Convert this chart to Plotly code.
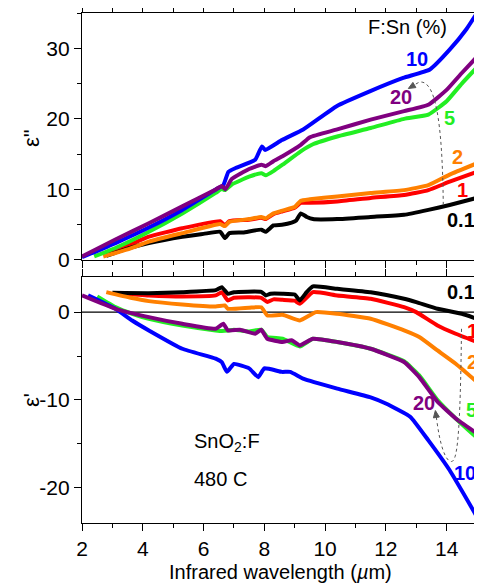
import plotly.graph_objects as go

# ---------------- data: top panel (epsilon'') ----------------
top_black_x = [2.8, 3.5, 4.2, 5.3, 6.0, 6.55, 6.7, 6.85, 7.3, 7.9, 8.05, 8.3, 8.58, 8.9, 9.05, 9.2, 9.4, 9.6, 10.4, 11.5, 12.6, 13.4, 14.1, 15.0]
top_black_y = [0.6, 1.6, 2.4, 3.3, 3.7, 4.0, 3.1, 3.8, 3.9, 4.3, 4.0, 4.9, 5.0, 5.3, 5.6, 6.6, 6.1, 5.8, 5.8, 6.1, 6.4, 7.1, 7.8, 8.8]

top_red_x = [2.8, 3.5, 4.2, 5.3, 6.55, 6.7, 6.85, 7.5, 7.9, 8.05, 8.3, 8.6, 9.0, 9.2, 9.5, 10.4, 11.5, 12.6, 13.4, 14.1, 15.0]
top_red_y = [0.7, 2.0, 3.3, 4.5, 5.5, 4.9, 5.5, 5.7, 6.0, 5.8, 6.5, 6.9, 7.4, 8.1, 8.1, 8.3, 8.8, 9.2, 9.9, 11.1, 12.5]

top_orange_x = [2.7, 3.5, 4.2, 5.3, 6.55, 6.7, 6.85, 7.5, 7.9, 8.05, 8.3, 8.6, 9.0, 9.2, 9.5, 10.4, 11.5, 12.6, 13.4, 14.1, 15.0]
top_orange_y = [0.5, 1.5, 2.6, 3.8, 5.1, 4.8, 5.4, 5.8, 6.1, 5.9, 6.6, 7.0, 7.5, 8.4, 8.6, 9.0, 9.5, 9.9, 10.6, 12.1, 13.7]

top_green_x = [2.4, 3.1, 4.2, 5.3, 6.4, 6.6, 6.7, 6.93, 7.5, 7.9, 8.05, 8.3, 8.6, 9.2, 9.6, 10.4, 11.5, 12.6, 13.4, 14.0, 14.5, 15.0]
top_green_y = [0.5, 1.7, 4.0, 6.6, 9.5, 10.1, 9.9, 10.7, 11.8, 12.3, 12.0, 12.6, 13.5, 15.4, 16.4, 17.5, 18.7, 20.0, 20.6, 22.5, 25.0, 27.3]

top_blue_x = [2.0, 3.1, 4.2, 5.3, 6.4, 6.65, 6.82, 7.04, 7.7, 7.92, 8.03, 8.58, 9.28, 10.38, 11.47, 12.57, 13.45, 14.1, 14.65, 15.0]
top_blue_y = [0.4, 2.4, 4.6, 7.1, 10.0, 10.6, 12.5, 13.0, 14.2, 16.1, 15.6, 17.0, 18.5, 21.8, 23.9, 25.8, 27.0, 29.8, 32.7, 35.0]

top_purple_x = [2.0, 3.1, 4.2, 5.3, 6.4, 6.6, 6.72, 6.93, 7.5, 7.9, 8.05, 8.3, 8.6, 9.2, 9.5, 10.4, 11.5, 12.6, 13.4, 14.0, 14.5, 15.0]
top_purple_y = [0.5, 2.9, 5.2, 7.6, 10.0, 10.5, 10.0, 11.5, 12.9, 13.5, 13.3, 14.0, 14.7, 16.3, 17.4, 18.5, 19.9, 21.1, 22.0, 24.1, 26.5, 28.8]

# ---------------- data: bottom panel (epsilon') ----------------
bot_black_x = [3.0, 4.2, 5.3, 6.4, 6.6, 6.8, 7.0, 7.9, 8.05, 8.2, 8.6, 9.0, 9.17, 9.4, 9.6, 10.4, 11.5, 12.6, 13.0, 13.7, 14.5, 15.0]
bot_black_y = [2.2, 2.16, 2.27, 2.5, 2.84, 2.08, 2.27, 2.3, 1.9, 2.1, 2.1, 2.0, 1.33, 2.3, 2.93, 2.65, 2.27, 1.52, 1.14, 0.38, -0.19, -0.76]

bot_red_x = [3.1, 4.2, 5.3, 6.4, 6.6, 6.8, 7.0, 7.9, 8.1, 8.3, 8.6, 9.0, 9.17, 9.6, 10.4, 11.5, 12.6, 13.0, 13.7, 14.3, 15.0]
bot_red_y = [2.16, 1.9, 1.78, 1.9, 2.27, 1.33, 1.63, 1.63, 1.14, 1.45, 1.4, 1.3, 0.95, 2.27, 1.9, 1.52, 0.57, 0.0, -1.52, -2.46, -3.4]

bot_orange_x = [2.8, 3.6, 4.2, 5.3, 6.4, 6.7, 6.8, 7.5, 7.9, 8.1, 8.6, 9.17, 9.7, 10.4, 11.5, 12.6, 13.1, 13.7, 14.3, 15.0]
bot_orange_y = [2.27, 1.63, 1.25, 0.87, 0.64, 0.76, 0.38, 0.5, 0.55, -0.38, -0.3, -0.95, 0.0, -0.19, -0.76, -2.08, -2.84, -4.36, -5.87, -7.95]

bot_green_x = [2.5, 3.1, 3.65, 4.2, 5.3, 6.4, 6.6, 6.8, 7.0, 7.5, 7.9, 8.1, 8.6, 9.17, 9.6, 10.4, 11.5, 12.6, 13.1, 13.7, 14.3, 15.0]
bot_green_y = [1.78, 0.57, -0.19, -0.76, -1.52, -2.08, -2.15, -2.1, -2.0, -2.2, -2.0, -2.84, -3.03, -3.9, -3.03, -3.4, -4.17, -5.6, -7.2, -10.0, -12.1, -14.3]

bot_blue_x = [2.2, 3.1, 3.65, 4.2, 5.3, 6.4, 6.6, 6.77, 7.0, 7.5, 7.8, 8.0, 8.58, 8.85, 9.3, 10.4, 11.5, 12.0, 12.8, 13.4, 14.1, 15.0]
bot_blue_y = [1.9, 0.38, -0.95, -2.08, -4.17, -5.3, -5.7, -6.8, -5.9, -6.4, -7.4, -6.4, -6.8, -6.8, -7.6, -8.7, -9.7, -10.4, -11.9, -14.6, -18.0, -23.3]

bot_purple_x = [2.0, 3.1, 4.2, 5.3, 6.4, 6.65, 6.8, 7.2, 7.7, 7.9, 8.1, 8.6, 8.9, 9.17, 9.6, 10.4, 11.5, 12.6, 13.1, 13.7, 14.3, 15.0]
bot_purple_y = [1.9, 0.38, -0.57, -1.33, -1.89, -1.33, -2.08, -2.0, -2.46, -2.0, -3.03, -3.4, -3.2, -3.79, -3.03, -3.4, -4.17, -5.68, -7.4, -10.2, -12.1, -13.8]

# tick labels
top_yticks = [0, 10, 20, 30]
bot_yticks = [-20, -10, 0]
bot_yticklabels = ["-20", "-10", "0"]
xticks = [2, 4, 6, 8, 10, 12, 14]

series_labels = ["0.1", "1", "2", "5", "10", "20"]
colors = {"0.1": "#000000", "1": "#FF0000", "2": "#FF8000", "5": "#22EE22", "10": "#0000FF", "20": "#800080"}

top_series = {"1": (top_red_x, top_red_y), "0.1": (top_black_x, top_black_y),
              "2": (top_orange_x, top_orange_y), "5": (top_green_x, top_green_y),
              "10": (top_blue_x, top_blue_y), "20": (top_purple_x, top_purple_y)}
bot_series = {"1": (bot_red_x, bot_red_y), "0.1": (bot_black_x, bot_black_y),
              "2": (bot_orange_x, bot_orange_y), "5": (bot_green_x, bot_green_y),
              "10": (bot_blue_x, bot_blue_y), "20": (bot_purple_x, bot_purple_y)}

FONT = "Liberation Sans, Arial, sans-serif"

# page has an 8px body margin: figure is 474x580, plot area in page px: x 82..477, y 13..523
PX0, PX1, PY0, PY1 = 82.0, 477.0, 13.0, 523.0

fig = go.Figure()
for k, (xs, ys) in top_series.items():
    fig.add_trace(go.Scatter(x=xs, y=ys, mode="lines", line=dict(color=colors[k], width=4, shape="spline", smoothing=0.4),
                             xaxis="x", yaxis="y", showlegend=False, hoverinfo="skip"))
for k, (xs, ys) in bot_series.items():
    fig.add_trace(go.Scatter(x=xs, y=ys, mode="lines", line=dict(color=colors[k], width=4, shape="spline", smoothing=0.4),
                             xaxis="x2", yaxis="y2", showlegend=False, hoverinfo="skip"))

axis_common = dict(showline=True, linecolor="black", linewidth=1.3, mirror="allticks",
                   ticks="outside", tickcolor="black", tickwidth=1.3, showgrid=False, zeroline=False,
                   automargin=False, tickfont=dict(family=FONT, size=21, color="black"))
minor_common = dict(ticklen=4, ticks="outside", tickcolor="black", tickwidth=1.3)

fig.update_layout(
    width=474, height=580,
    margin=dict(l=74, r=5, t=5, b=65),
    paper_bgcolor="white", plot_bgcolor="white",
    font=dict(family=FONT, color="black"),
    xaxis=dict(domain=[0, 1], range=[2, 15], anchor="y", tickvals=xticks, ticklen=7, showticklabels=False,
               minor=dict(dtick=1, **minor_common), **axis_common),
    yaxis=dict(domain=[0.5157, 1], range=[0, 35], anchor="x", tickvals=top_yticks, ticklen=7,
               minor=dict(dtick=5, **minor_common), **axis_common),
    xaxis2=dict(domain=[0, 1], range=[2, 15], anchor="y2", tickvals=xticks, ticklen=7,
                minor=dict(dtick=1, **minor_common), **axis_common),
    yaxis2=dict(domain=[0, 0.4824], range=[-24, 4], anchor="x2", tickvals=bot_yticks, ticktext=bot_yticklabels,
                ticklen=7, minor=dict(dtick=5, **minor_common), **axis_common),
)

# zero line in the bottom panel
fig.add_shape(type="line", xref="x2 domain", yref="y2", x0=0, x1=1, y0=0, y1=0,
              line=dict(color="black", width=1.2), layer="below")

# dashed guide arrows (curve + filled arrowhead)
GUIDE = "#555555"
fig.add_shape(type="path", xref="x", yref="y",
              path="M 13.89,7.8 C 13.86,20 13.62,25.6 13.1,25.2 L 12.95,24.85",
              line=dict(color=GUIDE, width=1, dash="dot"))
fig.add_shape(type="path", xref="x", yref="y",
              path="M 12.74,24.3 L 12.989,24.432 L 12.890,25.168 Z",
              line=dict(color=GUIDE, width=1), fillcolor=GUIDE)
fig.add_shape(type="path", xref="x2", yref="y2",
              path="M 14.49,-1.9 C 14.45,-14 14.35,-17 14.16,-17 C 13.95,-17 13.78,-15 13.68,-12.4 L 13.663,-12.0",
              line=dict(color=GUIDE, width=1, dash="dot"))
fig.add_shape(type="path", xref="x2", yref="y2",
              path="M 13.63,-11.2 L 13.761,-11.939 L 13.565,-12.037 Z",
              line=dict(color=GUIDE, width=1), fillcolor=GUIDE)


def ptxt(text, px, py, size=20, color="black", bold=False, xanchor="center", angle=0):
    t = f"<b>{text}</b>" if bold else text
    fig.add_annotation(x=(px - PX0) / (PX1 - PX0), y=(PY1 - py) / (PY1 - PY0), xref="paper", yref="paper",
                       text=t, showarrow=False, textangle=angle,
                       xanchor=xanchor, yanchor="middle", font=dict(family=FONT, size=size, color=color))


# axis titles
ptxt('ε"', 31, 138, size=22, angle=-90)
ptxt("ε'", 31, 400, size=22, angle=-90)
ptxt("Infrared wavelength (<i>µ</i>m)", 280, 572, size=20)

ptxt("F:Sn (%)", 407, 27)
# top panel labels
ptxt("10", 417, 59, color=colors["10"], bold=True)
ptxt("20", 401, 97, color=colors["20"], bold=True)
ptxt("5", 449, 118, color=colors["5"], bold=True)
ptxt("2", 457, 157, color=colors["2"], bold=True)
ptxt("1", 462, 190, color=colors["1"], bold=True)
ptxt("0.1", 461, 220, color=colors["0.1"], bold=True)
# bottom panel labels
ptxt("0.1", 461, 292, color=colors["0.1"], bold=True)
ptxt("1", 472, 331, color=colors["1"], bold=True)
ptxt("2", 472, 362, color=colors["2"], bold=True)
ptxt("5", 471, 410, color=colors["5"], bold=True)
ptxt("20", 424, 403, color=colors["20"], bold=True)
ptxt("10", 465, 473, color=colors["10"], bold=True)

ptxt("SnO<sub>2</sub>:F", 192, 442, xanchor="left")
ptxt("480 C", 192, 479, xanchor="left")

fig.write_html("out.html")
